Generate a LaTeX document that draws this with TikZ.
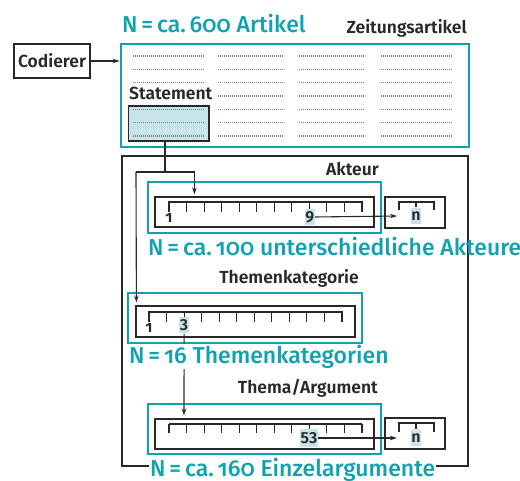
\documentclass[tikz,border=0pt]{standalone}
\usepackage{fontspec}
\usetikzlibrary{arrows.meta,calc}
\setmainfont{Fira Sans}
\IfFontExistsTF{Fira Sans SemiBold}
  {\newfontfamily\labfont{Fira Sans SemiBold}}
  {\newfontfamily\labfont{Fira Sans}[FakeBold=1.2]}
\IfFontExistsTF{Fira Sans Medium}
  {\newfontfamily\nfont{Fira Sans Medium}[Numbers=OldStyle]}
  {\newfontfamily\nfont{Fira Sans}[Numbers=OldStyle]}
\definecolor{tealc}{RGB}{16,162,176}
\definecolor{hl}{RGB}{198,228,234}
\definecolor{ink}{RGB}{40,40,40}
\tikzset{
  tealbox/.style={draw=tealc, line width=2.8pt, inner sep=0pt},
  thinbox/.style={draw=ink, line width=1.2pt, inner sep=0pt},
  lab/.style={font=\labfont\fontsize{17.5}{20}\selectfont, text=ink, inner sep=0pt},
  ntext/.style={font=\nfont\fontsize{23}{26}\selectfont, text=tealc, inner sep=0pt},
  num/.style={font=\labfont\fontsize{16}{17}\selectfont, text=ink, inner sep=0pt},
  numhl/.style={num, fill=hl, inner xsep=0.6pt, minimum height=16pt},
  startnum/.style={num, font=\labfont\addfontfeatures{Numbers=OldStyle}\fontsize{16}{17}\selectfont, anchor=base},
  conn/.style={draw=ink, line width=1.1pt},
  arr/.style={conn, -{Stealth[length=7pt,width=4.5pt]}},
  dots/.style={draw=black!50, line width=1.5pt, dash pattern=on 0.9pt off 1.1pt},
}
\begin{document}
\begin{tikzpicture}[x=1pt,y=-1pt]
\useasboundingbox (0,0) rectangle (520,481);

% outer frame around the coding levels
\node[thinbox, minimum width=346, minimum height=310] (frame) at (295,311) {};

% coder and article collection
\node[thinbox, minimum width=76, minimum height=34, font=\labfont\fontsize{17.5}{20}\selectfont, text=ink] (cod) at (52,61) {Codierer};
\node[tealbox, minimum width=348, minimum height=103] (art) at (295,95.5) {};
\node[lab, anchor=base east] (artlab) at (467,34) {Zeitungsartikel};
\node[ntext, anchor=base west] (artn) at (122,33) {N\,=\,ca.\,600 Artikel};
\draw[arr] (cod.east) -- (cod.east -| art.west);

% text lines of the articles
\foreach \xa/\xb in {133/204,218/284,299/365,381/452}
  \foreach \yy in {56,69.3,82.6,96,109.3,122.6,136}
    \draw[dots] (\xa,\yy) -- (\xb,\yy);
\fill[white] (128,89) rectangle (214,102);

% statement
\node[thinbox, fill=hl, minimum width=80.5, minimum height=35] (stmt) at (168.75,123.5) {};
\foreach \yy in {109.3,122.6,136}
  \draw[dots] (133,\yy) -- (204,\yy);
\node[lab, anchor=base west] (stlab) at (129,100) {Statement};

% level: Akteur
\node[lab, anchor=base east] (aklab) at (379,176) {Akteur};
\node[tealbox, minimum width=233, minimum height=51] (akt) at (264.5,207.5) {};
\node[thinbox, minimum width=219, minimum height=30] (ain) at (264.5,212) {};
\draw[conn] (169,202) -- (362,202);
\foreach \i in {0,...,11}
  \draw[conn] ({169+\i*193/11},201.5) -- ({169+\i*193/11},212);
\node[startnum] (a1) at (169,222.5) {1};
\node[numhl] (a9) at (309.8,217) {9};
\node[thinbox, minimum width=60, minimum height=31] (nb1) at (415,212.5) {};
\draw[conn] (399,210) -- (399,202) -- (434,202) -- (434,210);
\draw[conn] (416,202) -- (416,207);
\node[numhl] (n1) at (416,216.5) {n};
\coordinate (t1) at (397,216);
\draw[arr] (a9.east) -- (t1);
\node[ntext, anchor=base west] (akn) at (148,256) {N\,=\,ca.\,100 unterschiedliche Akteure};

% level: Themenkategorie
\node[lab, anchor=base east] (tklab) at (359,284) {Themenkategorie};
\node[tealbox, minimum width=234, minimum height=50] (tk) at (245,318) {};
\node[thinbox, minimum width=219, minimum height=31] (tin) at (245.5,321.5) {};
\draw[conn] (149,312) -- (342,312);
\foreach \i in {0,...,11}
  \draw[conn] ({149+\i*193/11},311.5) -- ({149+\i*193/11},322);
\node[startnum] (k1) at (149,332.5) {1};
\node[numhl] (k3) at (184.1,325.5) {3};

% level: Thema/Argument
\node[lab, anchor=base east] (thlab) at (378,394) {Thema/Argument};
\node[tealbox, minimum width=233, minimum height=50] (th) at (264.5,429) {};
\node[thinbox, minimum width=219, minimum height=30] (hin) at (264.5,434) {};
\draw[conn] (169,424) -- (362,424);
\foreach \i in {0,...,11}
  \draw[conn] ({169+\i*193/11},423.5) -- ({169+\i*193/11},433);
\node[numhl, minimum height=18pt] (h53) at (309,438) {53};
\node[thinbox, minimum width=60, minimum height=31] (nb2) at (415,433.5) {};
\draw[conn] (399,432) -- (399,423) -- (434,423) -- (434,432);
\draw[conn] (416,423) -- (416,429);
\node[numhl] (n2) at (416,438) {n};
\coordinate (t2) at (397,438);
\draw[arr] (h53.east) -- (t2);

% connectors between the levels
\coordinate (j) at (165,172);
\coordinate (jl) at (136,172);
\draw[conn] (stmt.south -| j) -- (j);
\draw[arr] (jl) -- (j) -| ($(ain.north west)+(40,-2)$);
\draw[arr] (jl) -- ($(tin.north west)+(1,-3)$);
\draw[arr] (k3.south) -- ($(hin.north west)+(29.6,-3)$);

% counts, drawn over the lines they interrupt
\node[ntext, anchor=base west, fill=white, inner sep=1pt] (tkn) at (128,363) {N\,=\,16 Themenkategorien};
\node[ntext, anchor=base west, fill=white, inner sep=1pt] (thn) at (149,476) {N\,=\,ca.\,160 Einzelargumente};
\end{tikzpicture}
\end{document}
